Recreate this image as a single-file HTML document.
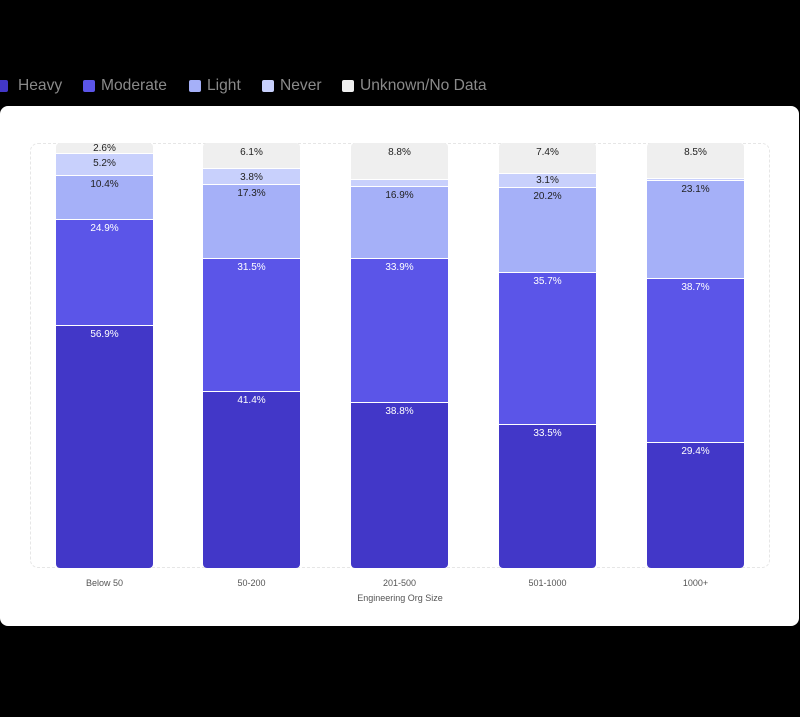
<!DOCTYPE html>
<html><head><style>
body{margin:0;width:800px;height:717px;background:#000;font-family:"Liberation Sans",sans-serif;position:relative;overflow:hidden}
.leg{position:absolute;top:77px;font-size:15.6px;color:#8a8a8a;white-space:nowrap}
.sq{position:absolute;top:80px;width:12px;height:12px;border-radius:2px}
.card{position:absolute;left:0;top:106px;width:799px;height:520px;background:#fff;border-radius:8px}
.frame{position:absolute;left:30px;top:143px;width:740px;height:425px;border:1px dashed #e6e6e6;border-radius:8px;box-sizing:border-box}
.bar{position:absolute;top:143px;width:97px;height:425px;display:flex;flex-direction:column;border-radius:4px;overflow:hidden}
.bar div{flex:none;border-bottom:1px solid #fff;font-size:10px;text-align:center;box-sizing:border-box;padding-top:3px;overflow:hidden;line-height:11px}
.bar div:last-child{border-bottom:none}
.u{background:#efefef;color:#222}.n{background:#c8d0fc;color:#222}.l{background:#a5b0f8;color:#222}.m{background:#5b55e8;color:#fff}.h{background:#4237c8;color:#fff}
.xl{position:absolute;top:578px;width:97px;text-align:center;font-size:9px;color:#555}
</style></head><body>
<div class="sq" style="left:-4px;background:#4237c8"></div><div class="leg" style="left:18px">Heavy</div>
<div class="sq" style="left:83px;background:#5b55e8"></div><div class="leg" style="left:101px">Moderate</div>
<div class="sq" style="left:189px;background:#a5b0f8"></div><div class="leg" style="left:207px">Light</div>
<div class="sq" style="left:262px;background:#c8d0fc"></div><div class="leg" style="left:280px">Never</div>
<div class="sq" style="left:342px;background:#efefef"></div><div class="leg" style="left:360px">Unknown/No Data</div>
<div class="card"></div>
<div class="frame"></div>
<div class="bar" style="left:56px">
<div class="u" style="height:2.6%;padding-top:0">2.6%</div><div class="n" style="height:5.2%;padding-top:4px">5.2%</div><div class="l" style="height:10.4%">10.4%</div><div class="m" style="height:24.9%">24.9%</div><div class="h" style="height:56.9%">56.9%</div></div>
<div class="bar" style="left:203px">
<div class="u" style="height:6.1%;padding-top:4px">6.1%</div><div class="n" style="height:3.8%;padding-top:3px">3.8%</div><div class="l" style="height:17.3%">17.3%</div><div class="m" style="height:31.5%">31.5%</div><div class="h" style="height:41.4%">41.4%</div></div>
<div class="bar" style="left:351px">
<div class="u" style="height:8.8%;padding-top:4px">8.8%</div><div class="n" style="height:1.6%;padding:0"></div><div class="l" style="height:16.9%">16.9%</div><div class="m" style="height:33.9%">33.9%</div><div class="h" style="height:38.8%">38.8%</div></div>
<div class="bar" style="left:499px">
<div class="u" style="height:7.4%;padding-top:4px">7.4%</div><div class="n" style="height:3.1%;padding-top:1px">3.1%</div><div class="l" style="height:20.2%">20.2%</div><div class="m" style="height:35.7%">35.7%</div><div class="h" style="height:33.5%">33.5%</div></div>
<div class="bar" style="left:647px">
<div class="u" style="height:8.5%;padding-top:4px">8.5%</div><div class="n" style="height:0.4%;padding:0"></div><div class="l" style="height:23.1%">23.1%</div><div class="m" style="height:38.7%">38.7%</div><div class="h" style="height:29.4%">29.4%</div></div>
<div class="xl" style="left:56px">Below 50</div>
<div class="xl" style="left:203px">50-200</div>
<div class="xl" style="left:351px">201-500</div>
<div class="xl" style="left:499px">501-1000</div>
<div class="xl" style="left:647px">1000+</div>
<div class="xl" style="left:300px;width:200px;top:593px">Engineering Org Size</div>
</body></html>
